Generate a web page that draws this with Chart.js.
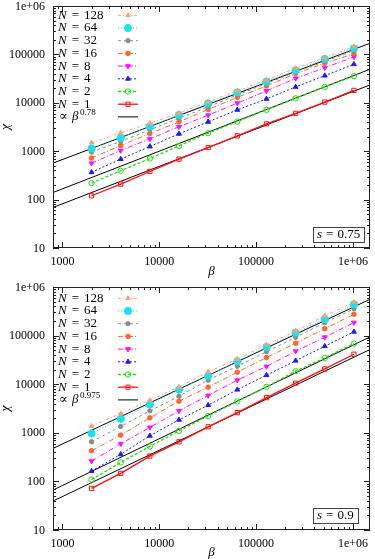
<!DOCTYPE html>
<html lang="en">
<head>
<meta charset="UTF-8">
<title>chi vs beta</title>
<script src="https://cdn.jsdelivr.net/npm/chart.js"></script>
<style>
  html, body { margin: 0; padding: 0; background: #fff; }
  .panel { position: relative; width: 375px; }
  #top { height: 280px; }
  #bottom { height: 279px; }
</style>
</head>
<body>
<div class="panel" id="top"><canvas id="chartTop"></canvas></div>
<div class="panel" id="bottom"><canvas id="chartBottom"></canvas></div>
<script>
// x values (beta) shared by all series
const beta = [2000, 4000, 8000, 16000, 32000, 64000, 128000, 256000, 512000, 1024000];
const nValues = ['128', '64', '32', '16', '8', '4', '2', '1'];

// axis ticks
const xTicks = [1000, 10000, 100000, 1000000];
const xTickLabels = ['1000', '10000', '100000', '1e+06'];
const yTicks = [10, 100, 1000, 10000, 100000, 1000000];
const yTickLabels = ['10', '100', '1000', '10000', '100000', '1e+06'];

// top panel, s = 0.75
const topN128 = [1490, 2395, 3795, 6110, 10450, 17600, 29700, 51800, 85700, 144600];
const topN64  = [1136, 1890, 3230, 5630, 9730, 16400, 27400, 47100, 80600, 134000];
const topN32  = [958, 1585, 2760, 4770, 8240, 14560, 25160, 43450, 71550, 119600];
const topN16  = [720, 1310, 2320, 4040, 7310, 12940, 22340, 40100, 65700, 103700];
const topN8   = [562, 1033, 1800, 3190, 5550, 9820, 17600, 31900, 53300, 88700];
const topN4   = [367, 687, 1250, 2285, 4040, 7140, 12050, 21300, 36400, 62700];
const topN2   = [219, 394, 706, 1290, 2360, 4100, 7140, 12340, 21300, 35600];
const topN1   = [120, 209, 381, 687, 1190, 2075, 3670, 6050, 10350, 18040];
// power-law guide lines, values at the two ends of the x range
const fitX = [800, 1500000];
const topFitA = [568, 169900];
const topFitB = [140, 49400];
const topFitC = [68.8, 23400];

// bottom panel, s = 0.9
const botN128 = [1371, 2500, 4695, 8810, 17910, 33150, 64900, 124700, 255900, 485000];
const botN64  = [971, 1937, 3830, 7710, 14830, 29730, 58480, 114500, 220000, 440800];
const botN32  = [653, 1352, 2830, 5670, 12100, 23450, 46600, 92500, 183700, 356500];
const botN16  = [426, 896, 2030, 4480, 8690, 17660, 35400, 69700, 138400, 274800];
const botN8   = [262, 594, 1290, 2830, 5870, 12100, 23120, 47700, 92500, 185400];
const botN4   = [163, 360, 867, 1848, 3705, 7710, 15320, 30430, 60450, 120000];
const botN2   = [109, 246, 525, 1098, 2220, 4415, 8810, 18530, 34750, 68700];
const botN1   = [72, 146, 332, 653, 1327, 2600, 5280, 10500, 20650, 41400];
const botFitA = [477, 558800];
const botFitB = [66.4, 93800];
const botFitC = [39.4, 51700];

const SERIF = '"Liberation Serif", "DejaVu Serif", serif';

// line / marker styles per N (same order as nValues)
const styles = [
  { color: '#f7a07c', fill: '#f7a07c', pointStyle: 'triangle', radius: 2.6, dash: [3, 2, 1, 2], width: 1 },
  { color: '#19e3e8', fill: '#19e3e8', pointStyle: 'circle', radius: 3.6, dash: [1, 2], width: 1 },
  { color: '#8c8c8c', fill: '#8c8c8c', pointStyle: 'circle', radius: 2.2, dash: [3, 3], width: 1 },
  { color: '#ff6530', fill: '#ff6530', pointStyle: 'circle', radius: 2.3, dash: [5, 2, 1, 2], width: 1 },
  { color: '#ff10ff', fill: '#ff10ff', pointStyle: 'triangle', radius: 2.8, rotation: 180, dash: [5, 2, 1, 2], width: 1 },
  { color: '#1a1aff', fill: '#1a1aff', pointStyle: 'triangle', radius: 2.8, dash: [2, 2], width: 1 },
  { color: '#22dd11', fill: 'rgba(0,0,0,0)', pointStyle: 'circle', radius: 2.7, dash: [3, 2], width: 1.3 },
  { color: '#ff1010', fill: 'rgba(0,0,0,0)', pointStyle: 'rect', radius: 3, dash: [], width: 1.3 }
];

function drawEq(ctx, lhs, rhs, x, y, size, gap) {
  ctx.font = 'italic ' + size + 'px ' + SERIF;
  ctx.fillText(lhs, x, y);
  let cx = x + ctx.measureText(lhs).width + gap;
  ctx.font = size + 'px ' + SERIF;
  ctx.fillText('=', cx, y);
  cx += ctx.measureText('=').width + gap;
  ctx.fillText(rhs, cx, y);
  return cx + ctx.measureText(rhs).width - x;
}

// frame, inward ticks, tick labels, axis titles, legend and the s label
const decor = {
  id: 'decor',
  afterDraw(chart, args, opts) {
    const { ctx, chartArea: a, scales: { x, y } } = chart;
    ctx.save();
    ctx.strokeStyle = '#222';
    ctx.lineWidth = 1;
    ctx.setLineDash([]);
    ctx.beginPath();
    for (let e = 2; e <= 6; e++) {
      for (let m = 1; m <= 9; m++) {
        const v = m * Math.pow(10, e);
        if (v < x.min || v > x.max) continue;
        const len = m === 1 ? 6 : 3;
        const px = Math.round(x.getPixelForValue(v)) + 0.5;
        ctx.moveTo(px, a.bottom); ctx.lineTo(px, a.bottom - len);
        ctx.moveTo(px, a.top); ctx.lineTo(px, a.top + len);
      }
    }
    for (let e = 1; e <= 6; e++) {
      for (let m = 1; m <= 9; m++) {
        const v = m * Math.pow(10, e);
        if (v < y.min || v > y.max) continue;
        const len = m === 1 ? 6 : 3;
        const py = Math.round(y.getPixelForValue(v)) + 0.5;
        ctx.moveTo(a.left, py); ctx.lineTo(a.left + len, py);
        ctx.moveTo(a.right, py); ctx.lineTo(a.right - len, py);
      }
    }
    ctx.stroke();
    ctx.strokeRect(Math.round(a.left) + 0.5, Math.round(a.top) + 0.5, Math.round(a.width) - 1, Math.round(a.height) - 1);

    // tick labels
    ctx.fillStyle = '#000';
    ctx.font = '12px ' + SERIF;
    ctx.textBaseline = 'middle';
    ctx.textAlign = 'center';
    xTicks.forEach((v, i) => ctx.fillText(xTickLabels[i], x.getPixelForValue(v), a.bottom + 13.5));
    ctx.textAlign = 'right';
    yTicks.forEach((v, i) => ctx.fillText(yTickLabels[i], a.left - 8, y.getPixelForValue(v) + 0.5));

    // axis titles
    ctx.font = 'italic 13px ' + SERIF;
    ctx.textAlign = 'center';
    ctx.fillText('\u03B2', (a.left + a.right) / 2, a.bottom + opts.titleGap);
    ctx.save();
    ctx.translate(6, (a.top + a.bottom) / 2);
    ctx.rotate(-Math.PI / 2);
    ctx.fillText('\u03C7', 0, 0);
    ctx.restore();

    // legend
    ctx.textAlign = 'left';
    const row0 = a.top + opts.legendTop;
    const step = 12.7;
    const tx = a.left + 5;
    for (let i = 0; i <= nValues.length; i++) {
      const yy = row0 + i * step;
      const ds = chart.data.datasets[i];
      ctx.fillStyle = '#000';
      if (i < nValues.length) {
        drawEq(ctx, 'N', nValues[i], tx, yy, 13, 5);
      } else {
        ctx.font = '13px ' + SERIF;
        ctx.fillText('\u221D', tx + 1, yy);
        ctx.font = 'italic 13px ' + SERIF;
        ctx.fillText('\u03B2', tx + 14, yy);
        ctx.font = '9px ' + SERIF;
        ctx.fillText(opts.exponent, tx + 22, yy - 4);
      }
      ctx.strokeStyle = ds.borderColor;
      ctx.lineWidth = ds.borderWidth;
      ctx.setLineDash(ds.borderDash || []);
      ctx.beginPath();
      ctx.moveTo(a.left + 65, yy);
      ctx.lineTo(a.left + 85, yy);
      ctx.stroke();
      ctx.setLineDash([]);
      if (ds.pointRadius > 0) {
        ctx.fillStyle = ds.pointBackgroundColor;
        ctx.strokeStyle = ds.pointBorderColor;
        ctx.lineWidth = 1;
        Chart.helpers.drawPoint(ctx, {
          pointStyle: ds.pointStyle, rotation: ds.pointRotation || 0,
          radius: ds.pointRadius, borderWidth: 1
        }, a.left + 75, yy);
      }
    }

    // s = ... box
    ctx.fillStyle = '#000';
    const bx = a.right - 57;
    const by = a.bottom - opts.boxBottom;
    const w = drawEq(ctx, 's', opts.sValue, bx + 4, by - 7.5, 13, 4);
    ctx.strokeStyle = '#444';
    ctx.lineWidth = 1;
    ctx.strokeRect(Math.round(bx) + 0.5, Math.round(by - 15) + 0.5, Math.round(w + 8), 15);
    ctx.restore();
  }
};

function makeChart(id, series, fits, sValue, exponent, L) {
  const datasets = series.map((vals, i) => {
    const st = styles[i];
    return {
      label: 'N = ' + nValues[i],
      data: beta.map((b, k) => ({ x: b, y: vals[k] })),
      showLine: true,
      borderColor: st.color,
      borderWidth: st.width,
      borderDash: st.dash,
      pointStyle: st.pointStyle,
      pointRotation: st.rotation || 0,
      pointRadius: st.radius,
      pointBorderWidth: 1,
      pointBorderColor: st.color,
      pointBackgroundColor: st.fill,
      order: i
    };
  });
  fits.forEach((f) => {
    datasets.push({
      label: 'fit',
      data: fitX.map((b, k) => ({ x: b, y: f[k] })),
      showLine: true,
      borderColor: '#000',
      borderWidth: 1,
      borderDash: [],
      pointRadius: 0,
      order: 20
    });
  });

  return new Chart(document.getElementById(id), {
    type: 'scatter',
    data: { datasets },
    options: {
      responsive: true,
      maintainAspectRatio: false,
      animation: false,
      layout: { padding: { top: L.padTop, right: 2, left: 0, bottom: 0 } },
      plugins: {
        legend: { display: false },
        tooltip: { enabled: false },
        decor: { legendTop: L.legendTop, boxBottom: L.boxBottom, titleGap: L.titleGap, sValue, exponent }
      },
      scales: {
        x: {
          type: 'logarithmic', min: 800, max: 1500000, bounds: 'data',
          grid: { display: false, drawTicks: false },
          border: { display: false },
          ticks: { display: false },
          afterBuildTicks: (s) => { s.ticks = xTicks.map((v) => ({ value: v })); },
          afterFit: (s) => { s.height = L.xHeight; }
        },
        y: {
          type: 'logarithmic', min: 10, max: 1000000, bounds: 'data',
          grid: { display: false, drawTicks: false },
          border: { display: false },
          ticks: { display: false },
          afterBuildTicks: (s) => { s.ticks = yTicks.map((v) => ({ value: v })); },
          afterFit: (s) => { s.width = 53; }
        }
      }
    },
    plugins: [decor]
  });
}

makeChart('chartTop',
  [topN128, topN64, topN32, topN16, topN8, topN4, topN2, topN1],
  [topFitA, topFitB, topFitC], '0.75', '0.78',
  { padTop: 6, xHeight: 32, titleGap: 24, legendTop: 9.3, boxBottom: 6.3 });

makeChart('chartBottom',
  [botN128, botN64, botN32, botN16, botN8, botN4, botN2, botN1],
  [botFitA, botFitB, botFitC], '0.9', '0.975',
  { padTop: 7, xHeight: 29, titleGap: 23, legendTop: 11.3, boxBottom: 6.7 });
</script>
</body>
</html>
